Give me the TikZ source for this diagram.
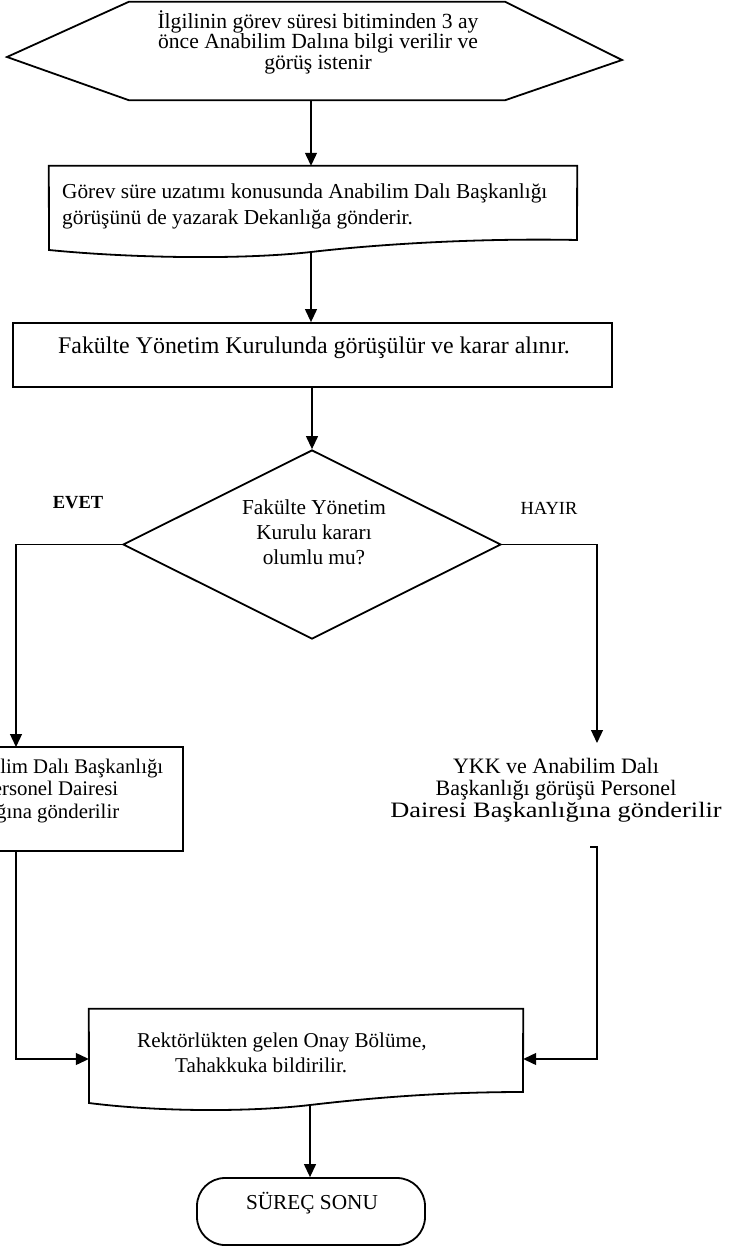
\documentclass[tikz,border=0pt]{standalone}
\usepackage{fontspec}
\setmainfont{Liberation Serif}
\usetikzlibrary{arrows.meta,shapes.geometric}
\begin{document}
\begin{tikzpicture}[x=1pt,y=-1pt,
  shapeline/.style={line width=1.8pt,line join=miter},
  box/.style={draw,line width=1.8pt,inner sep=0pt},
  ghost/.style={draw=none,inner sep=0pt},
  conn/.style={line width=1.2pt,-{Triangle[length=13pt,width=12pt]}},
  txt/.style={inner sep=0pt,align=center},
  fs/.style n args={2}{font=\fontsize{#1}{#2}\selectfont}]
\useasboundingbox (0,0) rectangle (730,1249);
\clip (0,0) rectangle (730,1249);

% start hexagon
\node[ghost,minimum width=376pt,minimum height=98pt] (start) at (317,51) {};
\draw[shapeline] (7,57) -- (start.north west) -- (start.north east) -- (622,60)
  -- (start.south east) -- (start.south west) -- cycle;
\node[txt,fs={21.6}{20.5}] (startt) at (318,42)
  {İlgilinin görev süresi bitiminden 3 ay\\önce Anabilim Dalına bilgi verilir ve\\görüş istenir};

% document 1
\node[ghost,minimum width=528pt,minimum height=88pt] (doc1) at (313,210) {};
\draw[shapeline] (doc1.north west) -- (doc1.north east) -- (577,240)
  .. controls (480,238) and (380,244) .. (311,252)
  .. controls (240,260) and (130,258) .. (49,250) -- cycle;
\coordinate (doc1b) at (311,252);
\node[txt,align=left,anchor=west,fs={21.3}{26}] (doc1t) at (62,206)
  {Görev süre uzatımı konusunda Anabilim Dalı Başkanlığı\\görüşünü de yazarak Dekanlığa gönderir.};

% board rectangle
\node[box,minimum width=599pt,minimum height=64pt] (kurul) at (312.5,355) {};
\node[txt,fs={23.9}{26}] (kurult) at (314,348) {Fakülte Yönetim Kurulunda görüşülür ve karar alınır.};

% decision
\node[box,diamond,minimum width=378pt,minimum height=189pt] (karar) at (312,544.5) {};
\node[txt,fs={21.3}{25}] (karart) at (314,532) {Fakülte Yönetim\\Kurulu kararı\\olumlu mu?};
\node[txt,font=\fontsize{18.5}{20}\selectfont\bfseries] (evet) at (78,503) {EVET};
\node[txt,fs={18.5}{20}] (hayir) at (549,508) {HAYIR};

% left box
\node[box,minimum width=383pt,minimum height=104pt] (anab) at (-8.5,799) {};
\node[txt,align=left,anchor=west,fs={20.8}{22.5}] (anabt) at (0,791)
  {\hspace*{163pt}\llap{Anabilim Dalı Başkanlığı}\\\hspace*{118pt}\llap{Personel Dairesi}\\\hspace*{119pt}\llap{Başkanlığına gönderilir}};
\coordinate (anabin) at (16,747);
\coordinate (anabout) at (16,851);

% right box
\node[txt,fs={22}{22}] (ykk) at (556,790)
  {YKK ve Anabilim Dalı\\Başkanlığı görüşü Personel\\\scalebox{1.2}[1]{Dairesi Başkanlığına gönderilir}};
\coordinate (ykkin) at (597,743);
\coordinate (ykkout) at (590,847);

% document 2
\node[ghost,minimum width=434pt,minimum height=100pt] (doc2) at (306,1059) {};
\draw[shapeline] (doc2.north west) -- (doc2.north east) -- (523,1092)
  .. controls (440,1092) and (370,1098) .. (310,1105)
  .. controls (250,1112) and (160,1112) .. (89,1103) -- cycle;
\coordinate (doc2b) at (310,1105);
\node[txt,align=left,anchor=west,fs={21.1}{25}] (doc2t) at (137,1053)
  {Rektörlükten gelen Onay Bölüme,\\\hspace*{38pt}Tahakkuka bildirilir.};

% terminator
\node[box,rounded corners=28pt,minimum width=228pt,minimum height=67pt] (son) at (311,1211.5) {};
\node[txt,fs={21.3}{22}] (sont) at (312,1203) {SÜREÇ SONU};

% connectors
\draw[conn] (start.south -| doc1b) -- (doc1.north -| doc1b);
\draw[conn] (doc1b) -- (doc1b |- kurul.north);
\draw[conn] (kurul.south -| karar.north) -- (karar.north);
\draw[conn] (karar.west) -| (anabin);
\draw[conn] (karar.east) -| (ykkin);
\draw[conn] (anabout) |- (doc2.west);
\draw[conn] (ykkout) -- ++(7,0) |- (doc2.east);
\draw[conn] (doc2b) -- (doc2b |- son.north);
\end{tikzpicture}
\end{document}
